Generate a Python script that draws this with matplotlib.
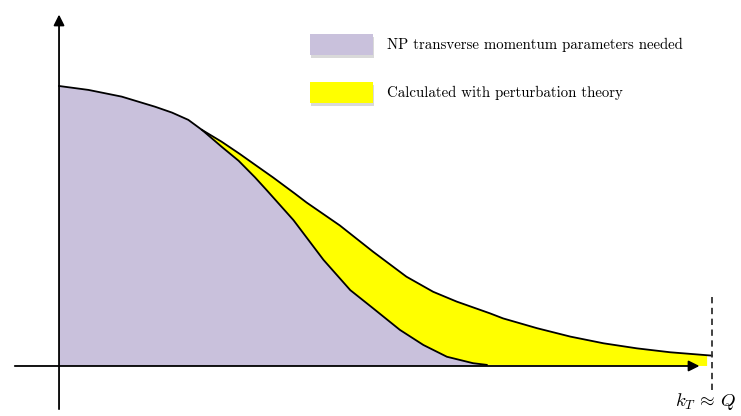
import numpy as np
import matplotlib.pyplot as plt
from matplotlib.patches import Rectangle

plt.rcParams['mathtext.fontset'] = 'cm'

# curva superior (total) e curva inferior (parte nao perturbativa), k_T/Q em x
x_total = [0.0, 0.045, 0.096, 0.147, 0.173, 0.198, 0.219, 0.249, 0.277, 0.300,
           0.328, 0.361, 0.379, 0.430, 0.481, 0.532, 0.573, 0.609, 0.660, 0.680,
           0.732, 0.783, 0.834, 0.885, 0.936, 1.0]
y_total = [1.0, 0.986, 0.962, 0.926, 0.905, 0.879, 0.843, 0.801, 0.757, 0.719,
           0.673, 0.616, 0.584, 0.502, 0.408, 0.319, 0.265, 0.230, 0.188, 0.170,
           0.135, 0.105, 0.081, 0.063, 0.049, 0.037]
x_np = [0.219, 0.249, 0.275, 0.300, 0.318, 0.359, 0.405, 0.446, 0.481, 0.522,
        0.558, 0.594, 0.634, 0.655]
y_np = [0.843, 0.783, 0.733, 0.674, 0.628, 0.521, 0.379, 0.271, 0.206, 0.129,
        0.075, 0.033, 0.010, 0.004]

legenda = ['NP transverse momentum parameters needed',
           'Calculated with perturbation theory']
cor_np = '#c9c1dc'
cor_pert = '#ffff00'

x_total = np.array(x_total)
y_total = np.array(y_total)
x_np = np.array(x_np)
y_np = np.array(y_np)

fig = plt.figure(figsize=(7.41, 4.16), dpi=100)
ax = fig.add_axes([0, 0, 1, 1])
ax.set_xlim(-0.0904, 1.0444)
ax.set_ylim(-0.1786, 1.3071)
ax.axis('off')

# regiao lilas: curva total ate a bifurcacao, depois a curva NP
ramo = x_total < x_np[0]
xs = np.concatenate([x_total[ramo], x_np, [x_np[-1], 0.0]])
ys = np.concatenate([y_total[ramo], y_np, [0.0, 0.0]])
ax.fill(xs, ys, color=cor_np, lw=0, zorder=1)

# regiao amarela: entre as duas curvas e ate o eixo
resto = x_total >= x_np[0]
xs = np.concatenate([x_total[resto], [0.9925, 0.9925], x_np[::-1]])
ys = np.concatenate([y_total[resto], [y_total[-1], 0.0], y_np[::-1]])
ax.fill(xs, ys, color=cor_pert, lw=0, zorder=1)

ax.plot(x_total, y_total, color='black', lw=1.3, zorder=3, solid_joinstyle='round')
ax.plot(x_np, y_np, color='black', lw=1.3, zorder=3, solid_joinstyle='round')

# eixos com setas
ax.annotate('', xy=(0.985, 0), xytext=(-0.072, 0),
            arrowprops=dict(arrowstyle='-|>', color='black', lw=1.3, mutation_scale=16), zorder=4)
ax.annotate('', xy=(0, 1.265), xytext=(0, -0.164),
            arrowprops=dict(arrowstyle='-|>', color='black', lw=1.3, mutation_scale=16), zorder=4)

ax.plot([1.0, 1.0], [0.246, -0.093], color='#333333', lw=1.3, ls=(0, (3.5, 2.5)), zorder=4)
ax.text(0.99, -0.128, r'$k_T\,\approx\,Q$', fontsize=13.5, ha='center', va='center')

# legenda desenhada a mao, com sombra
for i, (rotulo, cor) in enumerate(zip(legenda, [cor_np, cor_pert])):
    y0 = 0.868 - i * 0.116
    fig.patches.append(Rectangle((0.420, y0 - 0.007), 0.085, 0.050, transform=fig.transFigure,
                                 color='#c0c0c0', alpha=0.6, lw=0, zorder=1))
    fig.patches.append(Rectangle((0.418, y0), 0.085, 0.050, transform=fig.transFigure,
                                 color=cor, lw=0, zorder=2))
    fig.text(0.522, y0 + 0.024, rotulo, family='cmr10', fontsize=10.7,
             ha='left', va='center')

fig.savefig('out.png', dpi=100)
